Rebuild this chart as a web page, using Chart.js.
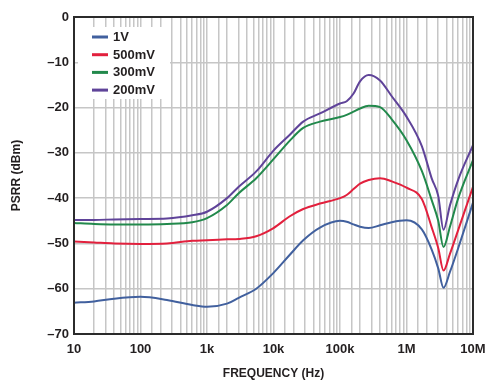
<!DOCTYPE html>
<html>
<head>
<meta charset="utf-8">
<script src="https://cdn.jsdelivr.net/npm/chart.js@4.4.0/dist/chart.umd.min.js"></script>
<style>
  html, body { margin: 0; padding: 0; background: #fff; }
</style>
</head>
<body>
<canvas id="psrrChart" width="496" height="385"></canvas>
<script>
// frequency points (Hz) shared by every curve
const freqHz = [10, 20, 40, 100, 250, 600, 1000, 2000, 3000, 5500, 10000, 17600, 28000, 50000,
  100000, 126000, 160000, 200000, 270000, 400000, 600000, 1000000, 1700000, 2400000, 3000000,
  3600000, 4500000, 6000000, 10000000];

// PSRR (dBm)
const psrr1V = [-63.1, -62.8, -62.2, -61.8, -62.5, -63.6, -64.0, -63.3, -62.0, -60.0, -56.5, -52.5, -49.3, -46.5,
  -45.0, -45.2, -45.8, -46.3, -46.6, -46.0, -45.3, -44.9, -46.9, -51.4, -55.5,
  -59.8, -56.3, -51.0, -41.0];
const psrr500mV = [-49.6, -49.8, -50.0, -50.1, -50.0, -49.4, -49.3, -49.1, -49.0, -48.4, -46.6, -44.0, -42.4, -41.2,
  -40.0, -39.3, -38.0, -36.8, -36.0, -35.6, -36.3, -37.7, -40.2, -46.5, -51.0,
  -56.0, -52.3, -47.0, -37.5];
const psrr300mV = [-45.5, -45.7, -45.8, -45.8, -45.7, -45.3, -44.4, -41.5, -38.9, -35.6, -31.4, -27.3, -24.5, -23.1,
  -22.1, -21.6, -20.9, -20.2, -19.6, -19.9, -22.6, -27.2, -34.0, -40.5, -45.0,
  -50.8, -46.3, -40.0, -31.6];
const psrr200mV = [-44.8, -44.8, -44.7, -44.6, -44.5, -43.8, -43.0, -40.0, -37.5, -34.1, -29.5, -26.0, -23.1, -21.3,
  -19.1, -18.6, -16.9, -14.2, -12.8, -14.0, -17.5, -22.0, -28.5, -35.7, -39.5,
  -47.0, -41.6, -35.9, -28.3];

const seriesNames = ['1V', '500mV', '300mV', '200mV'];
const seriesValues = [psrr1V, psrr500mV, psrr300mV, psrr200mV];
const seriesColors = ['#41609e', '#e2203d', '#22894c', '#5f4399'];

const xTickValues = [10, 100, 1000, 10000, 100000, 1000000, 10000000];
const xTickLabels = ['10', '100', '1k', '10k', '100k', '1M', '10M'];

const fontFamily = "'Liberation Sans', Arial, Helvetica, sans-serif";
const textColor = '#231f20';

// white legend box sitting in the top-left of the plot
const legendBox = {
  id: 'legendBox',
  beforeDatasetsDraw(chart) {
    const { ctx, chartArea } = chart;
    const x0 = chartArea.left + 4;
    const y0 = chartArea.top + 10;
    ctx.save();
    ctx.fillStyle = '#ffffff';
    ctx.fillRect(x0, y0, 92, 72);
    ctx.font = 'bold 13px ' + fontFamily;
    ctx.textBaseline = 'middle';
    chart.data.datasets.forEach((ds, i) => {
      const y = chartArea.top + 20 + i * 17.7;
      ctx.strokeStyle = ds.borderColor;
      ctx.lineWidth = 3;
      ctx.beginPath();
      ctx.moveTo(chartArea.left + 18, y);
      ctx.lineTo(chartArea.left + 34, y);
      ctx.stroke();
      ctx.fillStyle = textColor;
      ctx.fillText(ds.label, chartArea.left + 39, y + 0.5);
    });
    ctx.restore();
  }
};

// dark frame round the plot
const plotFrame = {
  id: 'plotFrame',
  afterDatasetsDraw(chart) {
    const { ctx, chartArea } = chart;
    ctx.save();
    ctx.strokeStyle = '#2b2b2b';
    ctx.lineWidth = 2;
    ctx.strokeRect(chartArea.left, chartArea.top, chartArea.right - chartArea.left, chartArea.bottom - chartArea.top);
    ctx.restore();
  }
};

const ctx = document.getElementById('psrrChart').getContext('2d');
new Chart(ctx, {
  type: 'line',
  data: {
    datasets: seriesNames.map((name, i) => ({
      label: name,
      data: freqHz.map((f, j) => ({ x: f, y: seriesValues[i][j] })),
      borderColor: seriesColors[i],
      backgroundColor: seriesColors[i],
      borderWidth: 2,
      pointRadius: 0,
      cubicInterpolationMode: 'monotone',
      fill: false
    }))
  },
  options: {
    responsive: false,
    animation: false,
    devicePixelRatio: 1,
    layout: { padding: { top: 17, right: 23, left: 0, bottom: 0 } },
    plugins: {
      legend: { display: false },
      tooltip: { enabled: false }
    },
    scales: {
      x: {
        type: 'logarithmic',
        min: 10,
        max: 10000000,
        afterFit: (scale) => { scale.height = 51; },
        border: { display: false },
        grid: { color: '#c6c6c6', lineWidth: 1.5, drawTicks: false },
        ticks: {
          autoSkip: false,
          maxRotation: 0,
          padding: 8,
          color: textColor,
          font: { family: fontFamily, size: 13, weight: 'bold' },
          callback: (value) => {
            const i = xTickValues.findIndex(v => Math.abs(v - value) / v < 1e-6);
            return i >= 0 ? xTickLabels[i] : '';
          }
        },
        title: {
          display: true,
          text: 'FREQUENCY (Hz)',
          color: textColor,
          font: { family: fontFamily, size: 12, weight: 'bold' },
          padding: { top: 0, bottom: 4 }
        }
      },
      y: {
        min: -70,
        max: 0,
        afterFit: (scale) => { scale.width = 74; },
        border: { display: false },
        grid: { color: '#c6c6c6', lineWidth: 1.5, drawTicks: false },
        ticks: {
          stepSize: 10,
          padding: 5,
          color: textColor,
          font: { family: fontFamily, size: 13, weight: 'bold' },
          callback: (value) => value === 0 ? '0' : '\u2013' + Math.abs(value)
        },
        title: {
          display: true,
          text: 'PSRR (dBm)',
          color: textColor,
          font: { family: fontFamily, size: 12, weight: 'bold' },
          padding: { top: 9, bottom: 0 }
        }
      }
    }
  },
  plugins: [legendBox, plotFrame]
});
</script>
</body>
</html>
